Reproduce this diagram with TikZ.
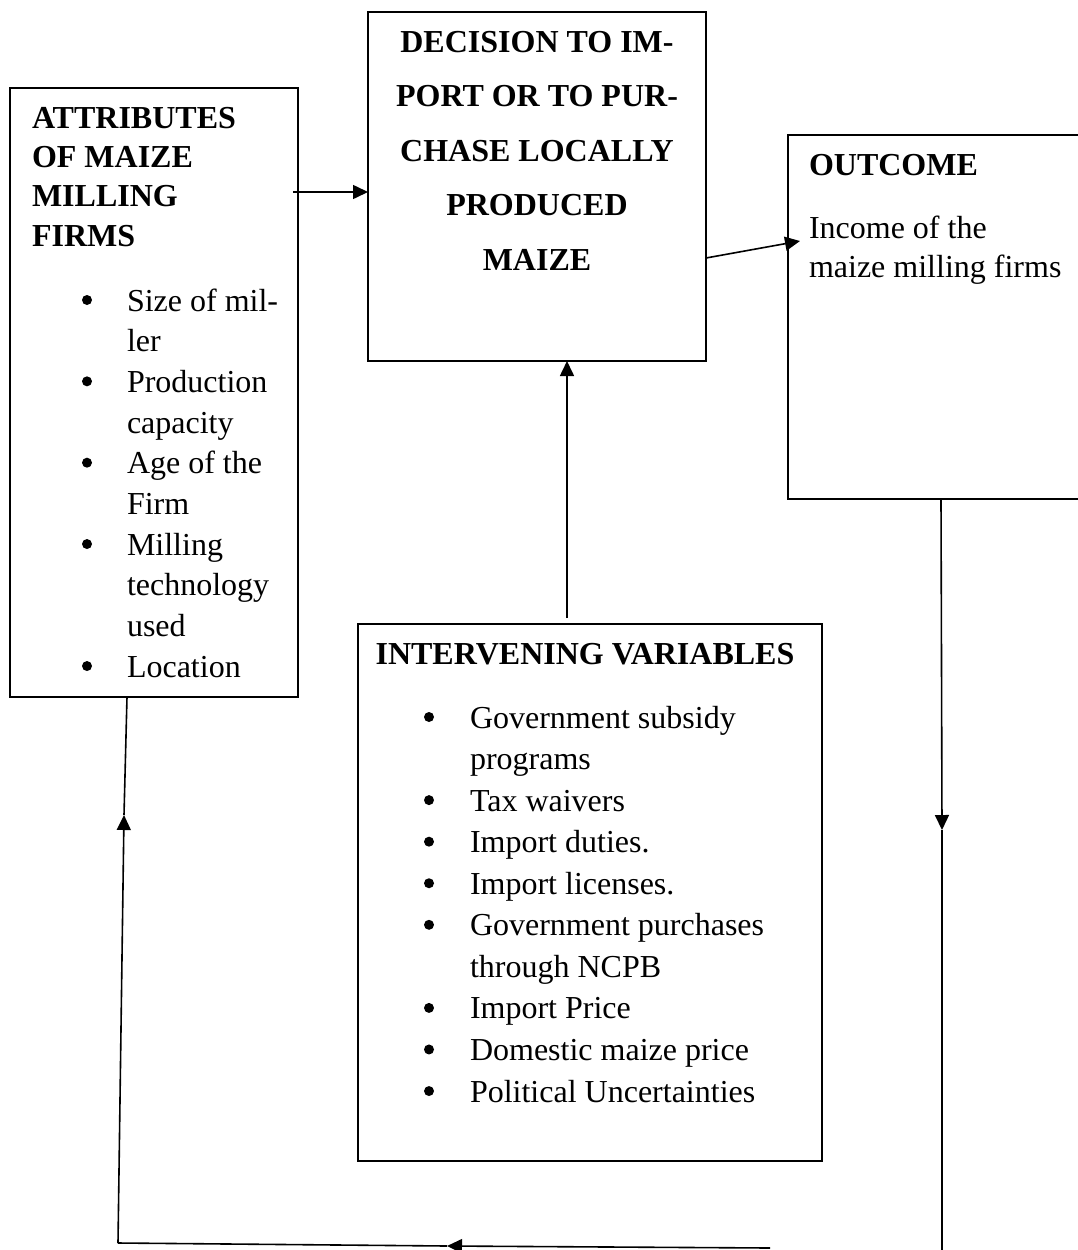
\documentclass[tikz,border=0pt]{standalone}
\usepackage{fontspec}
\setmainfont{Liberation Serif}
\usetikzlibrary{arrows.meta}
\tikzset{
  box/.style={draw, line width=1.5pt, inner sep=0pt, outer sep=0pt, anchor=north west},
  txt/.style={anchor=base west, inner sep=0pt, outer sep=0pt, font=\fontsize{32}{40}\selectfont},
  hd/.style={txt, font=\fontsize{32}{40}\selectfont\bfseries},
  hdc/.style={anchor=base, inner sep=0pt, outer sep=0pt, font=\fontsize{32}{40}\selectfont\bfseries},
  bul/.style={circle, fill=black, inner sep=0pt, outer sep=0pt, minimum size=10pt},
  conn/.style={line width=1.6pt},
  tip/.style={-{Triangle[length=15pt,width=14pt]}}
}
\begin{document}
\begin{tikzpicture}[x=1pt,y=-1pt]
\useasboundingbox (0,0) rectangle (1078,1250);
\clip (0,0) rectangle (1078,1250);
\fill[white] (0,0) rectangle (1078,1250);

% boxes
\node[box, minimum width=288pt, minimum height=609pt] (A) at (10,88) {};
\node[box, minimum width=338pt, minimum height=349pt] (D) at (368,12) {};
\node[box, minimum width=300pt, minimum height=364pt] (O) at (788,135) {};
\node[box, minimum width=464pt, minimum height=537pt] (I) at (358,624) {};

% box A text
\node[hd] (a1) at (32,128) {ATTRIBUTES};
\node[hd] (a2) at (32,167.3) {OF MAIZE};
\node[hd] (a3) at (32,206.6) {MILLING};
\node[hd] (a4) at (32,246) {FIRMS};
\foreach \t/\b [count=\k from 0] in {Size of mil-/1,ler/0,Production/1,capacity/0,Age of the/1,Firm/0,Milling/1,technology/0,used/0,Location/1}{
  \node[txt] (al\k) at (127,311+40.67*\k) {\t};
  \ifnum\b=1 \node[bul] (ab\k) at (87,300+40.67*\k) {}; \fi
}

% box D text
\node[hdc] (d1) at (537,52) {DECISION TO IM-};
\node[hdc] (d2) at (537,106.5) {PORT OR TO PUR-};
\node[hdc] (d3) at (537,161) {CHASE LOCALLY};
\node[hdc] (d4) at (537,215.5) {PRODUCED};
\node[hdc] (d5) at (537,270) {MAIZE};

% box O text
\node[hd] (o1) at (809,175) {OUTCOME};
\node[txt] (o2) at (809,238) {Income of the};
\node[txt] (o3) at (809,277) {maize milling firms};

% box I text
\node[hdc] (i0) at (585,664) {INTERVENING VARIABLES};
\foreach \t/\b [count=\k from 0] in {Government subsidy/1,programs/0,Tax waivers/1,Import duties./1,Import licenses./1,Government purchases/1,through NCPB/0,Import Price/1,Domestic maize price/1,Political Uncertainties/1}{
  \node[txt] (il\k) at (470,728+41.56*\k) {\t};
  \ifnum\b=1 \node[bul] (ib\k) at (429,717+41.56*\k) {}; \fi
}

% connector end points
\coordinate (aOut) at (293,192);
\coordinate (dOut) at (706,258);
\coordinate (oIn) at (800,241);
\coordinate (iUp) at (567,618);
\coordinate (oDown) at (941,499);
\coordinate (oMid) at (942,830);
\coordinate (oBot) at (942,1255);
\coordinate (bR) at (770,1248);
\coordinate (bM) at (447,1246);
\coordinate (bL) at (118,1243);
\coordinate (lM) at (124,815);
\coordinate (lTop) at (127,697);

% connectors
\draw[conn,tip] (aOut) -- (D.west |- aOut);
\draw[conn,tip] (D.east |- dOut) -- (oIn);
\draw[conn,tip] (iUp) -- (D.south -| iUp);
\draw[conn,tip] (O.south -| oDown) -- (oMid);
\draw[conn] (oMid) -- (oBot);
\draw[conn,tip] (bR) -- (bM);
\draw[conn] (bM) -- (bL);
\draw[conn,tip] (bL) -- (lM);
\draw[conn] (lM) -- (A.south -| lTop);
\end{tikzpicture}
\end{document}
